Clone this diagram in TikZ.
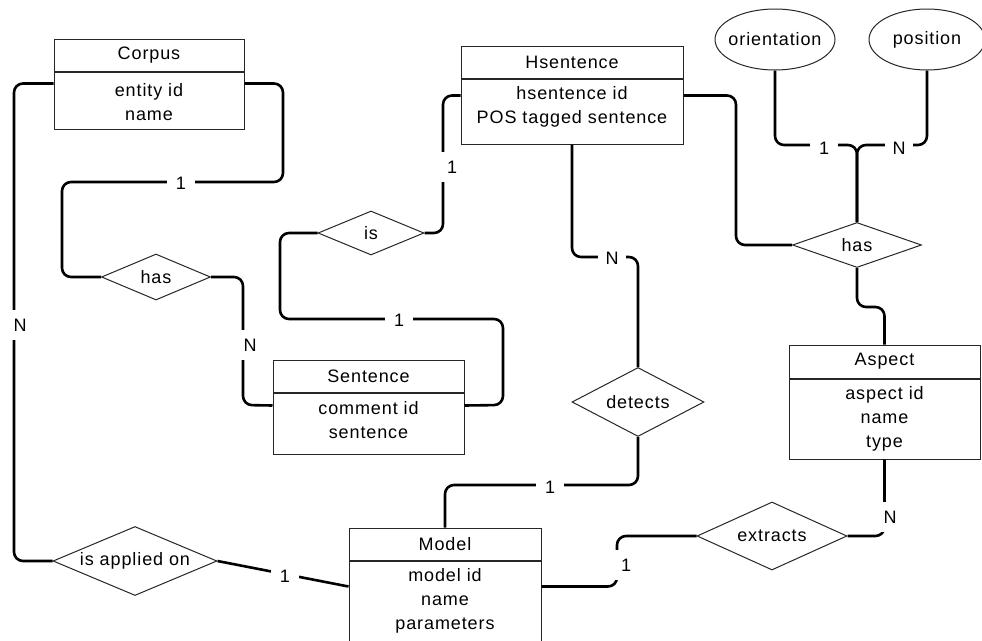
\documentclass[tikz,border=0pt]{standalone}
\usepackage{fontspec}
\setmainfont{Liberation Sans}[LetterSpace=5]
\usetikzlibrary{shapes.geometric}

\begin{document}
\begin{tikzpicture}[x=1pt,y=-1pt,
  every node/.style={font=\fontsize{18}{24}\selectfont, text=black},
  ent/.style={draw=black!85, line width=1pt, fill=white, inner sep=0pt, align=center},
  fields/.style={inner sep=0pt, align=center},
  rel/.style={draw=black!85, line width=1pt, shape=diamond, aspect=2.4, inner sep=0pt, fill=white},
  attr/.style={draw=black!85, line width=1pt, shape=ellipse, inner xsep=-8pt, inner ysep=0pt, fill=white},
  conn/.style={line width=2.6pt, rounded corners=9pt, line join=round},
  card/.style={fill=white, inner sep=0pt, minimum width=28pt, minimum height=30pt},
]
\useasboundingbox (0,0) rectangle (982,640);

% ---- entities: header box, attribute box, attribute list ----
\node[ent, minimum width=190pt, minimum height=32pt] (corpush) at (149,55) {Corpus};
\node[ent, minimum width=190pt, minimum height=57pt, anchor=north] (corpus) at (corpush.south) {};
\node[fields] (corpust) at ([yshift=-1.5pt]corpus.center) {entity id\\name};

\node[ent, minimum width=222pt, minimum height=32pt] (hsenth) at (572,62) {Hsentence};
\node[ent, minimum width=222pt, minimum height=65pt, anchor=north] (hsent) at (hsenth.south) {};
\node[fields] (hsentt) at ([yshift=4.5pt]hsent.center) {hsentence id\\POS tagged sentence};

\node[ent, minimum width=191pt, minimum height=32pt] (sentenceh) at (368.5,376) {Sentence};
\node[ent, minimum width=191pt, minimum height=61pt, anchor=north] (sentence) at (sentenceh.south) {};
\node[fields] (sentencet) at ([yshift=3.5pt]sentence.center) {comment id\\sentence};

\node[ent, minimum width=191pt, minimum height=33pt] (aspecth) at (884.5,361.5) {Aspect};
\node[ent, minimum width=191pt, minimum height=80pt, anchor=north] (aspect) at (aspecth.south) {};
\node[fields] (aspectt) at (aspect.center) {aspect id\\name\\type};

\node[ent, minimum width=192pt, minimum height=32pt] (modelh) at (445,544) {Model};
\node[ent, minimum width=192pt, minimum height=90pt, anchor=north] (model) at (modelh.south) {};
\node[fields] (modelt) at ([yshift=5pt]model.center) {model id\\name\\parameters};

% ---- attributes ----
\node[attr, minimum width=120pt, minimum height=61pt] (orient) at (775,39.5) {orientation};
\node[attr, minimum width=116pt, minimum height=61pt] (posit) at (927,39.5) {position};

% ---- relationships ----
\node[rel, minimum width=109pt, minimum height=46pt] (hasA) at (156,277) {has};
\node[rel, minimum width=106pt, minimum height=44pt] (isr) at (371,233) {is};
\node[rel, minimum width=132pt, minimum height=69pt] (detects) at (638,402) {detects};
\node[rel, minimum width=129pt, minimum height=45pt] (hasB) at (857,245) {has};
\node[rel, minimum width=164pt, minimum height=69pt] (applied) at (135,561) {is applied on};
\node[rel, minimum width=150pt, minimum height=68pt] (extracts) at (772,536) {extracts};

% ---- connectors ----
\draw[conn] ([yshift=-12pt]corpus.north west) -| (14,561) -- (applied.west);
\draw[conn] ([yshift=-12pt]corpus.north east) -| (283,182) -| (62,277) -- (hasA.west);
\draw[conn] (hasA.east) -| (243,405) -- ([yshift=-13pt]sentence.north west);
\draw[conn] ([yshift=-17pt]hsent.north west) -| (443,233) -- (isr.east);
\draw[conn] (isr.west) -| (280,319) -| (503,405) -- ([yshift=-13pt]sentence.north east);
\draw[conn] (hsent.south) |- (638,257) -- (detects.north);
\draw[conn] (detects.south) |- (445,485) -- (modelh.north);
\draw[conn] ([yshift=-17pt]hsent.north east) -| (736,245) -- (hasB.west);
\draw[conn] (hasB.north) |- (775,145) -- (orient.south);
\draw[conn] (hasB.north) |- (927,145) -- (posit.south);
\draw[conn] (hasB.south) |- (884.5,307) -- (aspecth.north);
\draw[conn] (aspect.south) |- (extracts.east);
\draw[conn] ([yshift=-26pt]model.north east) -| (617,536) -- (extracts.west);
\draw[conn] (applied.east) -- ([yshift=-26pt]model.north west);

% ---- cardinalities ----
\node[card] (cN1) at (20,325) {N};
\node[card] (c11) at (181,183) {1};
\node[card] (cN2) at (250,345) {N};
\node[card] (c12) at (452,167) {1};
\node[card] (c13) at (399,320) {1};
\node[card] (cN3) at (612,258) {N};
\node[card] (c14) at (550,487) {1};
\node[card] (c15) at (824,148) {1};
\node[card] (cN4) at (899,148) {N};
\node[card] (cN5) at (890,517) {N};
\node[card] (c16) at (626,565) {1};
\node[card] (c17) at (285,576) {1};
\end{tikzpicture}
\end{document}
